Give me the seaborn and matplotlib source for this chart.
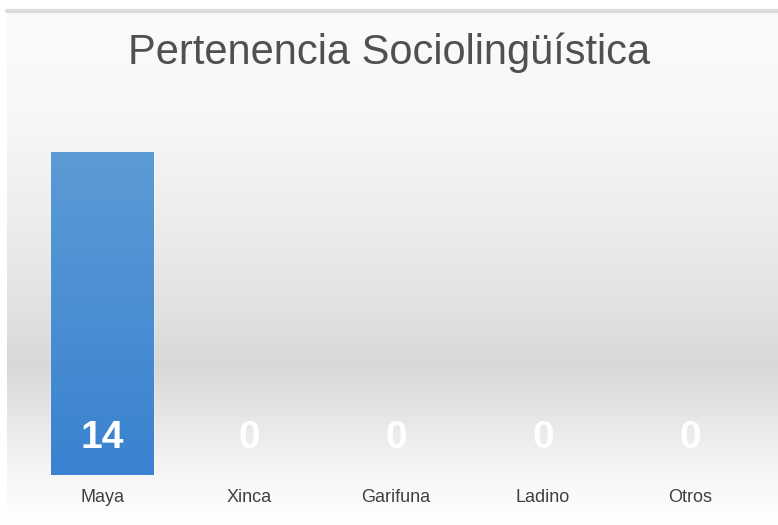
import numpy as np
import pandas as pd
import seaborn as sns
import matplotlib.pyplot as plt
from matplotlib.colors import LinearSegmentedColormap

# datos del gráfico
categorias = ['Maya', 'Xinca', 'Garifuna', 'Ladino', 'Otros']
valores = [14, 0, 0, 0, 0]
titulo = 'Pertenencia Sociolingüística'

df = pd.DataFrame({'categoria': categorias, 'valor': valores})

sns.set_theme(style='white')
plt.rcParams['font.family'] = ['Liberation Sans Narrow', 'Liberation Sans', 'DejaVu Sans']

fig = plt.figure(figsize=(7.78, 5.25), dpi=100)

# fondo con degradado (blanco arriba -> gris -> blanco abajo)
bg = fig.add_axes([7 / 778, 0, 1 - 7 / 778, 1 - 12 / 525], zorder=0)
grad_bg = LinearSegmentedColormap.from_list(
    'bg', [(0.0, '#fbfbfb'), (0.2, '#f7f7f7'), (0.4, '#ededed'),
           (0.6, '#e0e0e0'), (0.69, '#d8d8d8'), (0.8, '#e8e8e8'),
           (0.9, '#f6f6f6'), (1.0, '#ffffff')])
# fila 0 abajo -> valor 1 (fracción medida desde arriba)
bg.imshow(np.linspace(1, 0, 256).reshape(-1, 1), aspect='auto',
          cmap=grad_bg, vmin=0, vmax=1, extent=[0, 1, 0, 1], origin='lower')
bg.axis('off')

# línea gris superior
fig.add_artist(plt.Line2D([7 / 778, 1], [1 - 11 / 525, 1 - 11 / 525],
                          color='#dcdcdc', lw=3, transform=fig.transFigure))

ax = fig.add_axes([28.5 / 778, 50 / 525, 735 / 778, 369 / 525], zorder=1)
ax.set_facecolor('none')
sns.barplot(data=df, x='categoria', y='valor', color='#5b9bd5',
            width=0.7, ax=ax, saturation=1)

# degradado dentro de la barra
grad_bar = LinearSegmentedColormap.from_list('bar', ['#3a82d0', '#5b9bd5'])
for p in ax.patches:
    if p.get_height() > 0:
        x0, w, h = p.get_x(), p.get_width(), p.get_height()
        im = ax.imshow(np.linspace(0, 1, 256).reshape(-1, 1), aspect='auto',
                       cmap=grad_bar, extent=[x0, x0 + w, 0, h],
                       origin='lower', zorder=2)
        im.set_clip_path(p)

for i, v in enumerate(valores):
    ax.text(i, 1.6, str(v), ha='center', va='center', color='white',
            fontsize=28, fontweight='bold', zorder=3)

ax.set_xlim(-0.5, len(categorias) - 0.5)
ax.set_ylim(0, 16)
ax.set_xlabel('')
ax.set_ylabel('')
ax.set_yticks([])
ax.tick_params(axis='x', length=0, pad=10, labelsize=13, labelcolor='#404040')
sns.despine(ax=ax, left=True, bottom=True)

fig.text(0.5, 1 - 53 / 525, titulo, ha='center', va='center',
         fontsize=30, color='#505050')

fig.savefig('out.png', dpi=100, facecolor='white')
